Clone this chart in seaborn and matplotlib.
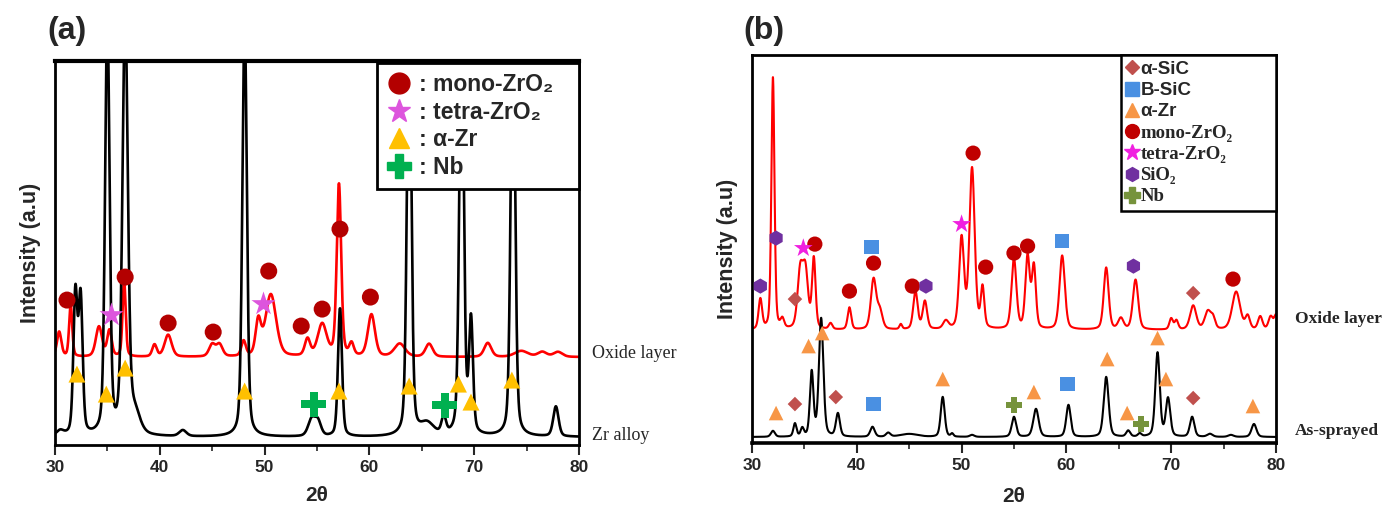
import numpy as np
import pandas as pd
import matplotlib
matplotlib.use("Agg")
import matplotlib.pyplot as plt
import seaborn as sns
from matplotlib.lines import Line2D

sns.set_style("white")
plt.rcParams['font.family'] = ['Liberation Sans', 'DejaVu Sans']

# ---------------- data ----------------
# Panel (a) Zr alloy (black): peak centres, heights above baseline, FWHM
a_zr_base = 8
a_zr_pos = [30.5, 31.95, 32.45, 35.0, 36.7, 37.6, 42.2, 48.1, 54.5, 55.1, 57.2, 63.8, 65.5, 67.1, 68.8, 69.7, 73.7, 77.8]
a_zr_amp = [5, 140, 135, 420, 420, 20, 6, 420, 17, 14, 128, 420, 12, 17, 420, 112, 420, 30]
a_zr_fwhm = [0.8, 0.45, 0.45, 0.5, 0.6, 1.2, 0.8, 0.5, 0.8, 0.7, 0.45, 0.5, 1.5, 0.5, 0.5, 0.45, 0.5, 0.6]

# Panel (a) oxide layer (red)
a_ox_base = 88
a_ox_pos = [30.4, 31.5, 34.2, 35.2, 36.6, 39.5, 40.8, 45.0, 45.7, 48.0, 49.4, 50.6, 54.1, 55.5, 57.1, 58.3, 60.2, 62.9, 65.7, 71.3, 74.5, 76.5, 78.0]
a_ox_amp = [25, 52, 30, 26, 76, 12, 22, 12, 12, 15, 34, 62, 17, 32, 172, 12, 42, 13, 13, 14, 6, 5, 5]
a_ox_fwhm = [0.5, 0.35, 0.7, 0.5, 0.35, 0.5, 0.8, 0.7, 0.7, 0.5, 0.6, 1.2, 0.6, 1.0, 0.5, 0.5, 0.8, 1.2, 0.8, 0.8, 1.5, 1.0, 1.0]

# Panel (a) phase markers (2theta, height)
a_mono_x = [31.15, 36.7, 40.8, 45.1, 50.4, 53.5, 55.5, 57.2, 60.1]
a_mono_y = [145, 168, 122, 113, 174, 119, 136, 216, 148]
a_tetra_x = [35.4, 49.9]
a_tetra_y = [130, 141]
a_zr_x = [32.1, 34.9, 36.7, 48.1, 57.1, 63.8, 68.5, 69.7, 73.6]
a_zr_y = [71, 51, 77, 54, 54, 59, 61, 43, 65]
a_nb_x = [54.7, 67.2]
a_nb_y = [41, 40]

# Panel (b) as-sprayed (black)
b_as_base = 6
b_as_pos = [32.0, 34.1, 34.8, 35.7, 36.6, 38.2, 41.5, 43.0, 45.0, 48.2, 49.1, 51.0, 55.0, 57.1, 60.2, 63.8, 65.9, 67.0, 68.7, 69.7, 72.0, 73.7, 75.7, 77.9]
b_as_amp = [6, 13, 8, 64, 118, 23, 10, 4, 3, 40, 3, 2, 20, 28, 32, 60, 6, 3, 84, 38, 20, 3, 2, 13]
b_as_fwhm = [0.45, 0.35, 0.35, 0.4, 0.5, 0.45, 0.5, 0.5, 2.0, 0.45, 0.3, 0.5, 0.5, 0.6, 0.5, 0.55, 0.45, 0.4, 0.5, 0.5, 0.5, 0.6, 0.6, 0.55]

# Panel (b) oxide layer (red)
b_ox_base = 113
b_ox_pos = [30.8, 32.0, 32.9, 34.6, 35.1, 35.9, 37.5, 39.3, 41.6, 42.2, 44.2, 45.6, 46.5, 48.5, 50.0, 51.0, 52.0, 55.0, 56.3, 56.9, 59.6, 63.8, 65.2, 66.6, 70.0, 70.5, 72.1, 73.5, 74.0, 76.2, 77.3, 78.5, 79.5, 80.0]
b_ox_amp = [30, 252, 9, 56, 56, 70, 6, 22, 50, 18, 5, 38, 28, 8, 90, 160, 40, 70, 72, 62, 74, 62, 11, 50, 11, 9, 24, 18, 10, 38, 13, 13, 13, 14]
b_ox_fwhm = [0.4, 0.35, 0.4, 0.6, 0.6, 0.4, 0.4, 0.4, 0.6, 0.6, 0.3, 0.5, 0.5, 0.6, 0.55, 0.6, 0.4, 0.55, 0.5, 0.45, 0.6, 0.55, 0.6, 0.6, 0.4, 0.4, 0.7, 0.7, 0.5, 0.9, 0.5, 0.5, 0.5, 0.4]

# Panel (b) phase markers
b_asic_x = [34.1, 38.0, 34.1, 72.1, 72.1]
b_asic_y = [144, 46, 39, 150, 45]
b_bsic_x = [41.4, 59.6, 41.6, 60.1]
b_bsic_y = [196, 202, 39, 59]
b_zr_x = [32.3, 35.4, 36.7, 48.2, 56.9, 63.9, 65.8, 68.7, 69.5, 77.8]
b_zr_y = [30, 97, 110, 64, 51, 84, 30, 105, 64, 37]
b_mono_x = [36.0, 39.3, 41.6, 45.3, 51.1, 52.3, 55.0, 56.3, 75.9]
b_mono_y = [199, 152, 180, 157, 290, 176, 190, 197, 164]
b_tetra_x = [34.9, 50.0]
b_tetra_y = [195, 219]
b_sio2_x = [30.8, 32.3, 46.6, 66.4]
b_sio2_y = [157, 205, 157, 177]
b_nb_x = [55.0, 67.1]
b_nb_y = [38, 19]

xticks = [30, 40, 50, 60, 70, 80]

# ---------------- helpers ----------------
two_theta = np.linspace(30, 80, 4000)

def pattern(pos, amp, fwhm, base):
    y = np.full_like(two_theta, float(base))
    for c, a, w in zip(pos, amp, fwhm):
        hw = w / 2.0
        u = (two_theta - c) / hw
        y += a * (0.65 * np.exp(-np.log(2) * u ** 2) + 0.35 / (1 + u ** 2))
    return y

SANS = ['Liberation Sans', 'DejaVu Sans']
SERIF = ['Liberation Serif', 'DejaVu Serif']

fig = plt.figure(figsize=(13.91, 5.11), dpi=100)
axA = fig.add_axes([0.0395, 0.129, 0.3767, 0.7515])
axB = fig.add_axes([0.5406, 0.133, 0.3767, 0.759])

def style_axes(ax, ymax):
    ax.set_xlim(30, 80)
    ax.set_ylim(0, ymax)
    ax.set_xticks(xticks)
    ax.set_xticks([35, 45, 55, 65, 75], minor=True)
    ax.set_yticks([])
    ax.tick_params(axis='x', which='major', direction='out', length=7, width=1.5, bottom=True, labelsize=12.5, pad=4)
    ax.tick_params(axis='x', which='minor', direction='out', length=4, width=1.2, bottom=True)
    for lbl in ax.get_xticklabels():
        lbl.set_fontweight('bold')
    for sp in ax.spines.values():
        sp.set_linewidth(2.0)
        sp.set_color('black')
    ax.set_ylabel('Intensity (a.u)', fontsize=15.5, fontweight='bold', labelpad=10)

# ---------------- panel (a) ----------------
dfa_ox = pd.DataFrame({'x': two_theta, 'y': pattern(a_ox_pos, a_ox_amp, a_ox_fwhm, a_ox_base)})
dfa_zr = pd.DataFrame({'x': two_theta, 'y': pattern(a_zr_pos, a_zr_amp, a_zr_fwhm, a_zr_base)})
sns.lineplot(data=dfa_ox, x='x', y='y', ax=axA, color='#FF0000', linewidth=1.9, zorder=2)
sns.lineplot(data=dfa_zr, x='x', y='y', ax=axA, color='black', linewidth=1.9, zorder=2.1)

mk_a = [
    (a_mono_x, a_mono_y, 'o', '#B30000', 150),
    (a_tetra_x, a_tetra_y, '*', '#DD55DD', 330),
    (a_zr_x, a_zr_y, '^', '#FFC000', 150),
    (a_nb_x, a_nb_y, 'P', '#00B050', 320),
]
for xs, ys, m, c, s in mk_a:
    sns.scatterplot(x=xs, y=ys, ax=axA, marker=m, color=c, s=s, edgecolor='none', zorder=4, legend=False)

style_axes(axA, 384)
axA.set_xlabel('2θ', fontsize=15, fontweight='bold', labelpad=8)
axA.spines['top'].set_linewidth(3.0)

handles_a = [
    Line2D([], [], ls='none', marker='o', color='#B30000', markersize=15),
    Line2D([], [], ls='none', marker='*', color='#DD55DD', markersize=17),
    Line2D([], [], ls='none', marker='^', color='#FFC000', markersize=15),
    Line2D([], [], ls='none', marker='P', color='#00B050', markersize=17),
]
labels_a = [': mono-ZrO₂', ': tetra-ZrO₂', ': α-Zr', ': Nb']
legA = axA.legend(handles_a, labels_a, loc='upper left', bbox_to_anchor=(0.6145, 0.995, 0.3855, 0.0),
                  mode='expand', borderaxespad=0.0, frameon=True,
                  fancybox=False, edgecolor='black', framealpha=1, handlelength=1.0,
                  handletextpad=0.4, labelspacing=0.2, borderpad=0.45,
                  prop={'family': SANS, 'weight': 'bold', 'size': 16.5})
legA.get_frame().set_linewidth(2.0)
legA.set_zorder(10)

axA.text(81.2, 92, 'Oxide layer', fontsize=13, family=SERIF,
         va='center', ha='left', clip_on=False)
axA.text(81.2, 10, 'Zr alloy', fontsize=13, family=SERIF,
         va='center', ha='left', clip_on=False)
fig.text(67 / 1391, 1 - 31 / 511, '(a)', fontsize=23, fontweight='bold', ha='center', va='center',
         family=SANS)

# ---------------- panel (b) ----------------
dfb_ox = pd.DataFrame({'x': two_theta, 'y': pattern(b_ox_pos, b_ox_amp, b_ox_fwhm, b_ox_base)})
dfb_as = pd.DataFrame({'x': two_theta, 'y': pattern(b_as_pos, b_as_amp, b_as_fwhm, b_as_base)})
sns.lineplot(data=dfb_ox, x='x', y='y', ax=axB, color='#FF0000', linewidth=1.5, zorder=2)
sns.lineplot(data=dfb_as, x='x', y='y', ax=axB, color='black', linewidth=1.5, zorder=2.1)

mk_b = [
    (b_asic_x, b_asic_y, 'D', '#C0504D', 55),
    (b_bsic_x, b_bsic_y, 's', '#4A90E2', 110),
    (b_zr_x, b_zr_y, '^', '#F79646', 110),
    (b_mono_x, b_mono_y, 'o', '#C00000', 120),
    (b_tetra_x, b_tetra_y, '*', '#F020E0', 200),
    (b_sio2_x, b_sio2_y, 'h', '#7030A0', 120),
    (b_nb_x, b_nb_y, 'P', '#76933C', 140),
]
for xs, ys, m, c, s in mk_b:
    sns.scatterplot(x=xs, y=ys, ax=axB, marker=m, color=c, s=s, edgecolor='none', zorder=4, legend=False)

style_axes(axB, 388)
axB.set_xlabel('2θ', fontsize=15, fontweight='bold', labelpad=10)
axB.spines['bottom'].set_linewidth(2.6)

handles_b = [
    Line2D([], [], ls='none', marker='D', color='#C0504D', markersize=7),
    Line2D([], [], ls='none', marker='s', color='#4A90E2', markersize=10),
    Line2D([], [], ls='none', marker='^', color='#F79646', markersize=10),
    Line2D([], [], ls='none', marker='o', color='#C00000', markersize=10),
    Line2D([], [], ls='none', marker='*', color='#F020E0', markersize=12),
    Line2D([], [], ls='none', marker='h', color='#7030A0', markersize=10),
    Line2D([], [], ls='none', marker='P', color='#76933C', markersize=11),
]
labels_b = ['α-SiC', 'B-SiC', 'α-Zr', 'mono-ZrO₂', 'tetra-ZrO₂', 'SiO₂', 'Nb']
legB = axB.legend(handles_b, labels_b, loc='upper left', bbox_to_anchor=(0.704, 1.0, 0.296, 0.0),
                  mode='expand', borderaxespad=0.0, frameon=True,
                  fancybox=False, edgecolor='black', framealpha=1, handlelength=0.6,
                  handletextpad=0.15, labelspacing=0.22, borderpad=0.3,
                  prop={'family': SANS, 'weight': 'bold', 'size': 13.5})
legB.get_frame().set_linewidth(1.8)
legB.set_zorder(10)
for i, t in enumerate(legB.get_texts()):
    if i >= 3:
        t.set_fontfamily(SERIF)
        t.set_fontsize(13.5)

axB.text(81.8, 124, 'Oxide layer', fontsize=12.5, fontweight='bold',
         family=SERIF, va='center', ha='left', clip_on=False)
axB.text(81.8, 12, 'As-sprayed', fontsize=12.5, fontweight='bold',
         family=SERIF, va='center', ha='left', clip_on=False)
fig.text(764 / 1391, 1 - 31 / 511, '(b)', fontsize=23, fontweight='bold', ha='center', va='center',
         family=SANS)

fig.savefig('out.png', dpi=100)
